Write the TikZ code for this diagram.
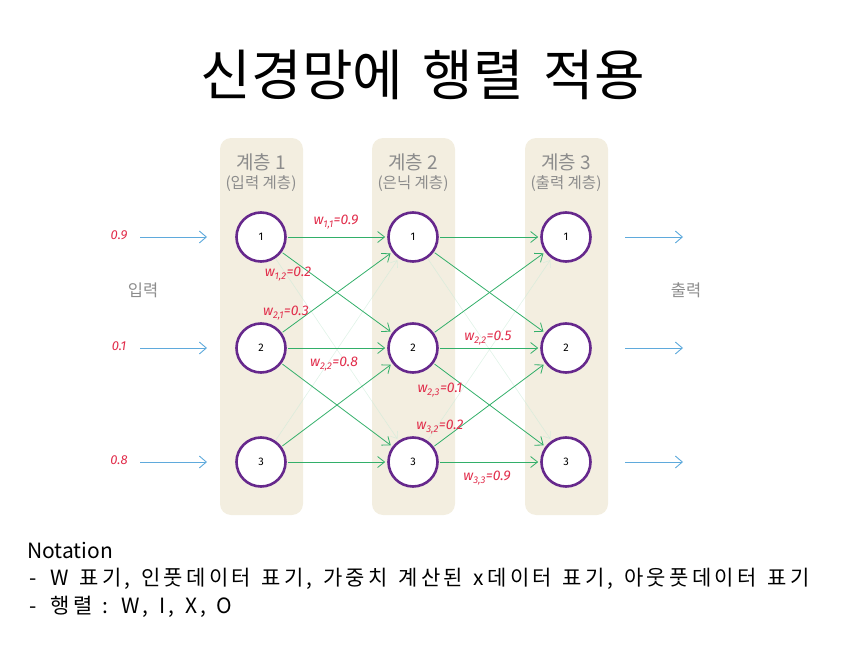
\documentclass[tikz,border=0pt]{standalone}
\usepackage{fontspec}
\setmainfont{Noto Sans CJK KR}
\newfontfamily\hand{Fira Sans}
\newfontfamily\notefont{Noto Sans CJK KR}[LetterSpace=16,WordSpace=1.3]
\newfontfamily\titlefont{Noto Sans CJK KR}[WordSpace=1.6]
\usetikzlibrary{arrows.meta}
\definecolor{beige}{RGB}{243,238,224}
\definecolor{purp}{RGB}{102,40,140}
\definecolor{grn}{RGB}{50,175,105}
\definecolor{blu}{RGB}{95,170,220}
\definecolor{wred}{RGB}{225,45,75}
\definecolor{hgray}{RGB}{140,140,140}
\tikzset{
  neuron/.style={circle,draw=purp,line width=2.6pt,fill=white,minimum size=49pt,inner sep=0pt,font=\hand\fontsize{11}{12}\selectfont},
  conn/.style={draw=grn,line width=0.8pt,-{Straight Barb[length=7pt,width=11pt,line width=0.8pt]},shorten >=2pt,shorten <=1pt},
  faint/.style={draw=grn!25,line width=0.6pt,opacity=0.6,-{Straight Barb[length=6pt,width=9pt]},shorten >=2pt},
  io/.style={draw=blu,line width=0.9pt,-{Straight Barb[length=7pt,width=12pt,line width=0.9pt]}},
  col/.style={fill=beige,rounded corners=11pt},
  wlab/.style={text=wred,font=\hand\itshape\fontsize{14}{15}\selectfont,inner sep=1pt},
  inval/.style={text=wred,font=\hand\itshape\fontsize{13}{14}\selectfont},
  head/.style={text=hgray,font=\fontsize{19}{21}\selectfont,align=center},
  sub/.style={text=hgray,font=\fontsize{15.5}{17}\selectfont},
  side/.style={text=hgray,font=\fontsize{16.5}{18}\selectfont},
  noteline/.style={anchor=base west,inner sep=0pt,font=\notefont\fontsize{21}{24}\selectfont}
}
\begin{document}
\begin{tikzpicture}[x=1pt,y=-1pt]
\useasboundingbox (0,0) rectangle (847,669);
% title
\node[font=\titlefont\fontsize{55}{60}\selectfont] (title) at (423,75) {신경망에 행렬 적용};
% columns
\fill[col] (220,138) rectangle (303,515);
\fill[col] (372,138) rectangle (455,515);
\fill[col] (525,138) rectangle (608,515);
\node[head] (h1) at (261,162) {계층 1};
\node[sub] (s1) at (261,184) {(입력 계층)};
\node[head] (h2) at (413,162) {계층 2};
\node[sub] (s2) at (413,184) {(은닉 계층)};
\node[head] (h3) at (566,162) {계층 3};
\node[sub] (s3) at (566,184) {(출력 계층)};
% neurons
\foreach \i/\y in {1/237,2/348,3/462}{
  \node[neuron] (a\i) at (261,\y) {\i};
  \node[neuron] (b\i) at (413,\y) {\i};
  \node[neuron] (c\i) at (566,\y) {\i};
}
% faint connections
\draw[faint] (a1) -- (b3);
\draw[faint] (a3) -- (b1);
\draw[faint] (b1) -- (c3);
\draw[faint] (b3) -- (c1);
% strong connections
\foreach \s/\t in {1/1,1/2,2/1,2/2,2/3,3/2,3/3}{
  \draw[conn] (a\s) -- (b\t);
  \draw[conn] (b\s) -- (c\t);
}
% inputs
\foreach \i/\y/\v in {1/237/0.9,2/348/0.1,3/462/0.8}{
  \node[inval] (iv\i) at (119,\y-2) {\v};
  \coordinate (is\i) at (140,\y);
  \coordinate (ie\i) at (207,\y);
  \draw[io] (is\i) -- (ie\i);
  \coordinate (os\i) at (625,\y);
  \coordinate (oe\i) at (683,\y);
  \draw[io] (os\i) -- (oe\i);
}
\node[side] (inp) at (143,290) {입력};
\node[side] (outp) at (686,290) {출력};
% weight labels
\node[wlab] (w11) at (336,222) {w\textsubscript{1,1}=0.9};
\node[wlab] (w12) at (288,274) {w\textsubscript{1,2}=0.2};
\node[wlab] (w21) at (286,313) {w\textsubscript{2,1}=0.3};
\node[wlab] (w22) at (334,364) {w\textsubscript{2,2}=0.8};
\node[wlab] (v22) at (488,338) {w\textsubscript{2,2}=0.5};
\node[wlab] (v23) at (440,390) {w\textsubscript{2,3}=0.1};
\node[wlab] (v32) at (440,427) {w\textsubscript{3,2}=0.2};
\node[wlab] (v33) at (487,478) {w\textsubscript{3,3}=0.9};
% notation
\node[anchor=base west,inner sep=0pt,font=\fontsize{21}{24}\selectfont] (note0) at (27,558) {Notation};
\node[noteline] (note1) at (29,585.5) {-\hspace{14pt}W 표기, 인풋데이터 표기, 가중치 계산된 x데이터 표기, 아웃풋데이터 표기};
\node[noteline] (note2) at (29,613) {-\hspace{14pt}행렬 : W, I, X, O};
\end{tikzpicture}
\end{document}
